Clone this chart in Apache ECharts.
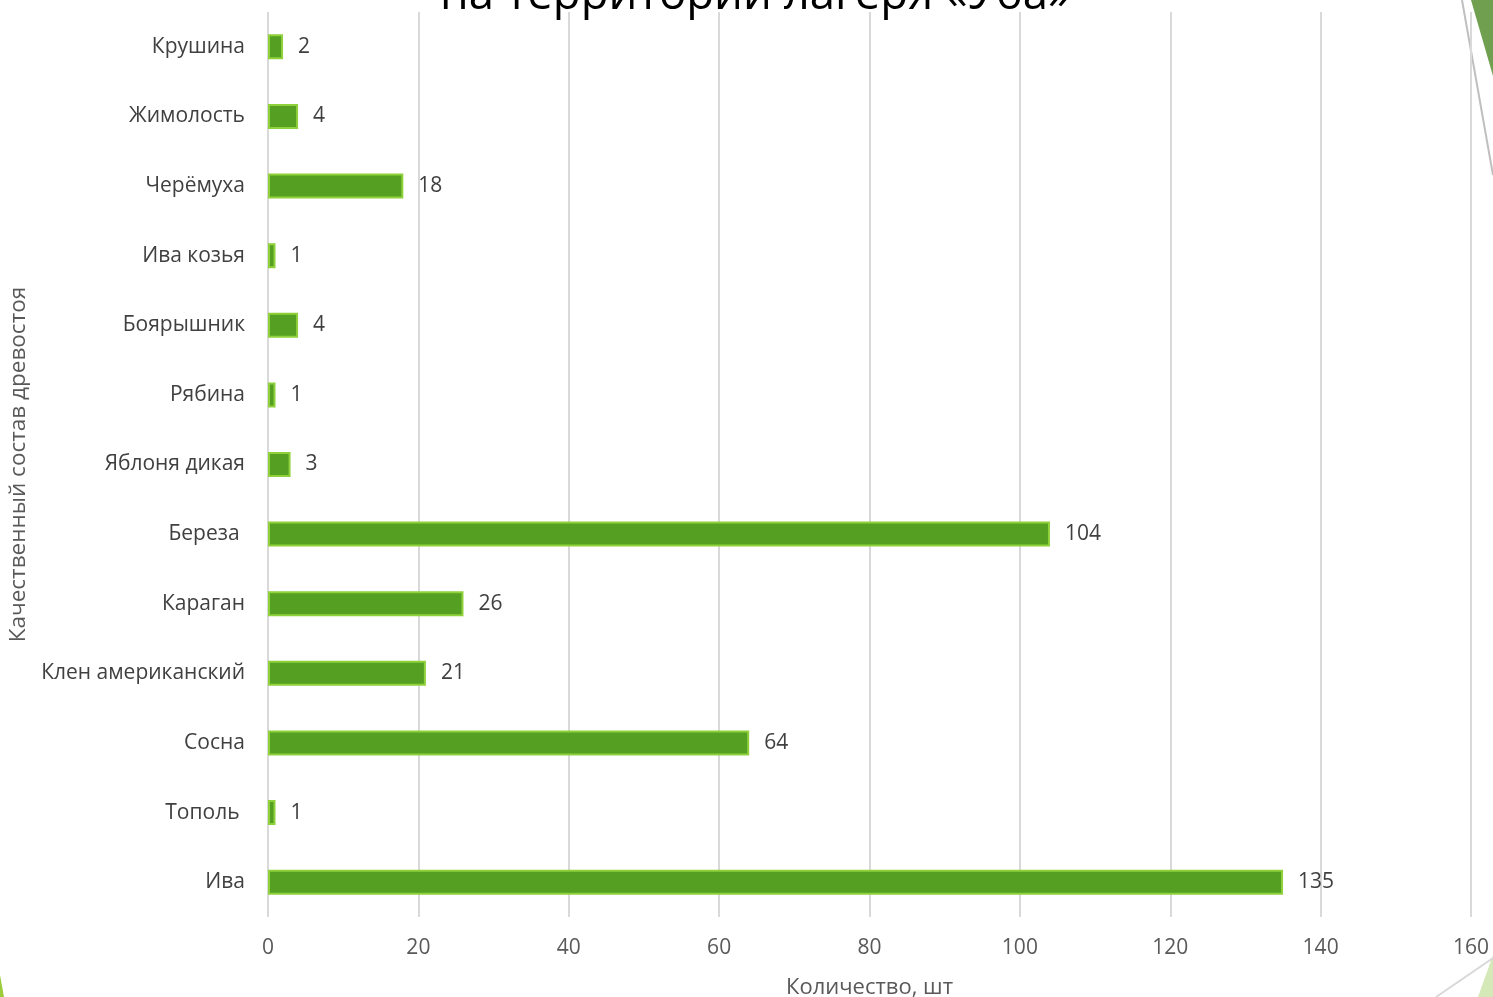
<!DOCTYPE html>
<html>
<head>
<meta charset="utf-8">
<script src="https://cdn.jsdelivr.net/npm/echarts@6/dist/echarts.min.js"></script>
<style>
  html, body { margin: 0; padding: 0; background: #fff; }
  #chart { width: 1493px; height: 997px; }
</style>
</head>
<body>
<div id="chart"></div>
<script>
// породы снизу вверх, как в диаграмме
var species = ['Ива', 'Тополь ', 'Сосна', 'Клен американский', 'Караган', 'Береза ',
  'Яблоня дикая', 'Рябина', 'Боярышник', 'Ива козья', 'Черёмуха', 'Жимолость', 'Крушина'];
var counts = [135, 1, 64, 21, 26, 104, 3, 1, 4, 1, 18, 4, 2];
var xTicks = [0, 20, 40, 60, 80, 100, 120, 140, 160];

var font = '"Open Sans", sans-serif';
var chart = echarts.init(document.getElementById('chart'));

chart.setOption({
  animation: false,
  grid: { left: 268, right: 22, top: 12, bottom: 80, containLabel: false, outerBoundsMode: 'none' },
  xAxis: {
    type: 'value',
    min: xTicks[0],
    max: xTicks[xTicks.length - 1],
    interval: 20,
    name: 'Количество, шт',
    nameLocation: 'middle',
    nameGap: 60,
    nameTextStyle: { fontFamily: font, fontSize: 22, color: '#595959' },
    axisLine: { show: false },
    axisTick: { show: false },
    axisLabel: { fontFamily: font, fontSize: 21, color: '#595959', margin: 21 },
    splitLine: { show: true, lineStyle: { color: '#d9d9d9', width: 2 } }
  },
  yAxis: {
    type: 'category',
    data: species,
    name: 'Качественный состав древостоя',
    nameLocation: 'middle',
    nameGap: 236,
    nameRotate: 90,
    nameTextStyle: { fontFamily: font, fontSize: 22.5, color: '#595959' },
    axisLine: { show: false },
    axisTick: { show: false },
    axisLabel: { fontFamily: font, fontSize: 21, color: '#404040', margin: 23 }
  },
  series: [{
    type: 'bar',
    data: counts,
    barWidth: 25,
    itemStyle: { color: '#55a022', borderColor: '#8fd13a', borderWidth: 2 },
    label: {
      show: true,
      position: 'right',
      distance: 15,
      fontFamily: font,
      fontSize: 21,
      color: '#404040'
    }
  }],
  graphic: [
    {
      type: 'text',
      left: 440,
      top: -27,
      style: { text: 'на территории лагеря «Уба»', fontFamily: font, fontSize: 45.5, fill: '#000' }
    },
    {
      type: 'polygon',
      shape: { points: [[1471, 0], [1493, 0], [1493, 76]] },
      style: { fill: '#70a04f' }
    },
    {
      type: 'line',
      shape: { x1: 1462, y1: 0, x2: 1493, y2: 175 },
      style: { stroke: '#bfbfbf', lineWidth: 2 }
    },
    {
      type: 'polygon',
      shape: { points: [[1493, 955], [1493, 997], [1478, 997]] },
      style: { fill: '#d5e8b8' }
    },
    {
      type: 'line',
      shape: { x1: 1436, y1: 997, x2: 1493, y2: 958 },
      style: { stroke: '#d9d9d9', lineWidth: 2 }
    },
    {
      type: 'polygon',
      shape: { points: [[0, 975], [4, 997], [0, 997]] },
      style: { fill: '#9ccc3c' }
    }
  ]
});
</script>
</body>
</html>
